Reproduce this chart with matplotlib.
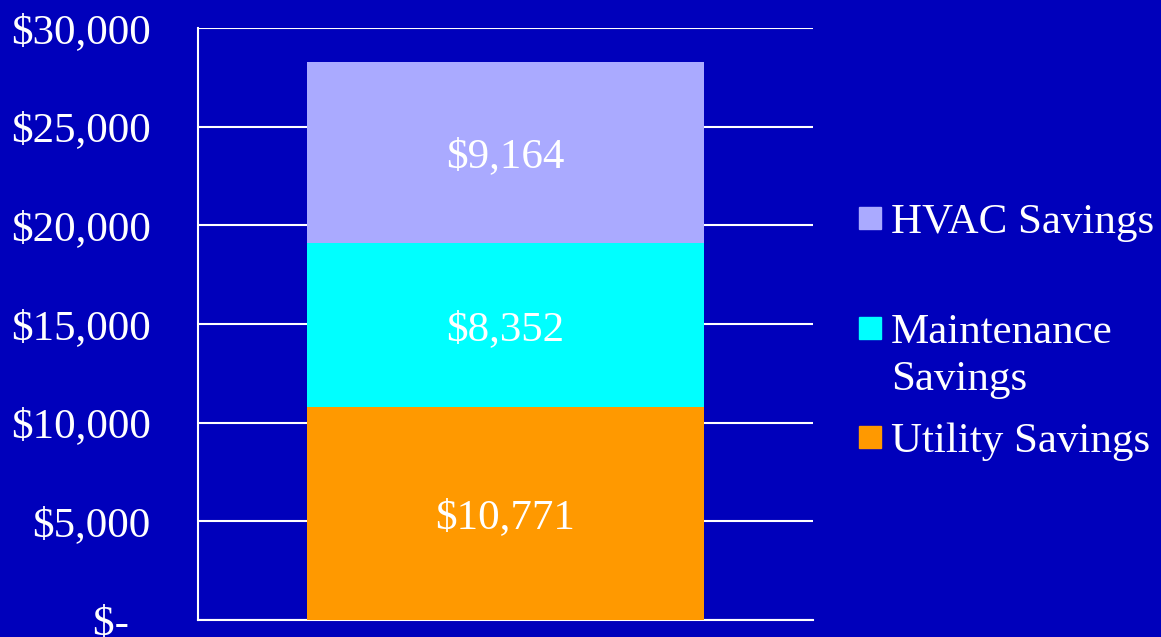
import matplotlib.pyplot as plt
from matplotlib.patches import Rectangle

# datos del grafico
series = ['Utility Savings', 'Maintenance Savings', 'HVAC Savings']
leyenda = ['Utility Savings', 'Maintenance\nSavings', 'HVAC Savings']
valores = [10771, 8352, 9164]
colores = ['#FF9900', '#00FFFF', '#AAAAFF']
yticks = [0, 5000, 10000, 15000, 20000, 25000, 30000]
ytick_labels = ['$-  ', '$5,000', '$10,000', '$15,000', '$20,000', '$25,000', '$30,000']

fondo = '#0000BB'
plt.rcParams['font.family'] = ['Liberation Serif', 'DejaVu Serif']
tam = 31

fig = plt.figure(figsize=(11.61, 6.37), dpi=100, facecolor=fondo)
ax = fig.add_axes([198/1161, 17/637, 615/1161, 592/637])
ax.set_facecolor(fondo)

#* barra apilada
base = 0
for nombre, v, c in zip(series, valores, colores):
    ax.bar(0, v, width=0.647, bottom=base, color=c, zorder=3, label=nombre)
    ax.text(0, base + v/2, f'${v:,}', ha='center', va='center_baseline',
            color='white', fontsize=tam, zorder=4)
    base += v

ax.set_xlim(-0.5, 0.5)
ax.set_ylim(0, 30000)
ax.set_xticks([])
ax.set_yticks(yticks)
ax.set_yticklabels(ytick_labels)
ax.tick_params(axis='y', length=0, pad=34, labelsize=tam, labelcolor='white')
ax.grid(axis='y', color='white', linewidth=1.5, zorder=1)
for lado in ['top', 'right']:
    ax.spines[lado].set_visible(False)
for lado in ['left', 'bottom']:
    ax.spines[lado].set_color('white')
    ax.spines[lado].set_linewidth(1.5)

#* leyenda a mano
ys_cuadro = [437, 328, 218]
ys_texto = [437, 356, 218]
for etiqueta, c, yc, yt in zip(leyenda, colores, ys_cuadro, ys_texto):
    fig.patches.append(Rectangle((859/1161, 1 - (yc + 11)/637), 22/1161, 22/637,
                                 transform=fig.transFigure, color=c))
    va = 'center' if '\n' in etiqueta else 'center_baseline'
    fig.text(891/1161, 1 - yt/637, etiqueta, ha='left', va=va,
             color='white', fontsize=tam, linespacing=1.3)

fig.savefig('out.png', dpi=100, facecolor=fondo)
